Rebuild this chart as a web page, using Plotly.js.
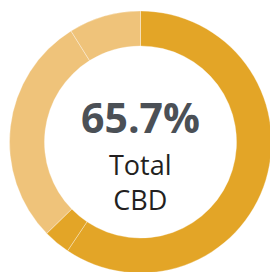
<!DOCTYPE html>
<html>
<head>
<meta charset="utf-8">
<script src="https://cdn.plot.ly/plotly-3.0.1.min.js"></script>
<style>
html,body{margin:0;padding:0;overflow:hidden;background:#fff;width:270px;height:272px;}
#chart{width:282px;height:284px;}
</style>
</head>
<body>
<div id="chart"></div>
<script>
const labels = ["CBD A", "CBD B", "Other A", "Other B"];
const values = [59.4, 3.3, 28.4, 8.9];
const colors = ["#E3A527", "#E3A527", "#EFC37A", "#EFC37A"];
const centerValue = "65.7%";
const centerLabel = "Total<br>CBD";

const W = 282, H = 284;
const cx = 140.5, cy = 142, R = 131;

const trace = {
  type: "pie",
  labels: labels,
  values: values,
  hole: 0.733,
  sort: false,
  direction: "clockwise",
  rotation: 0,
  textinfo: "none",
  hoverinfo: "none",
  showlegend: false,
  marker: {colors: colors, line: {color: "rgba(255,255,255,0.55)", width: 0.6}},
  domain: {x: [(cx - R) / W, (cx + R) / W], y: [1 - (cy + R) / H, 1 - (cy - R) / H]}
};

const layout = {
  width: W, height: H,
  margin: {l: 0, r: 0, t: 0, b: 0},
  paper_bgcolor: "#fff",
  showlegend: false,
  annotations: [
    {text: "<b>" + centerValue + "</b>", xref: "paper", yref: "paper", x: cx / W, y: 1 - 117 / H,
     xanchor: "center", yanchor: "middle", showarrow: false,
     font: {family: "Open Sans", size: 41, color: "#4B5056"}},
    {text: centerLabel, xref: "paper", yref: "paper", x: cx / W, y: 1 - 182 / H,
     xanchor: "center", yanchor: "middle", showarrow: false,
     font: {family: "Open Sans", size: 27, color: "#231F20"}}
  ]
};

Plotly.newPlot("chart", [trace], layout, {staticPlot: true, displayModeBar: false});
</script>
</body>
</html>
